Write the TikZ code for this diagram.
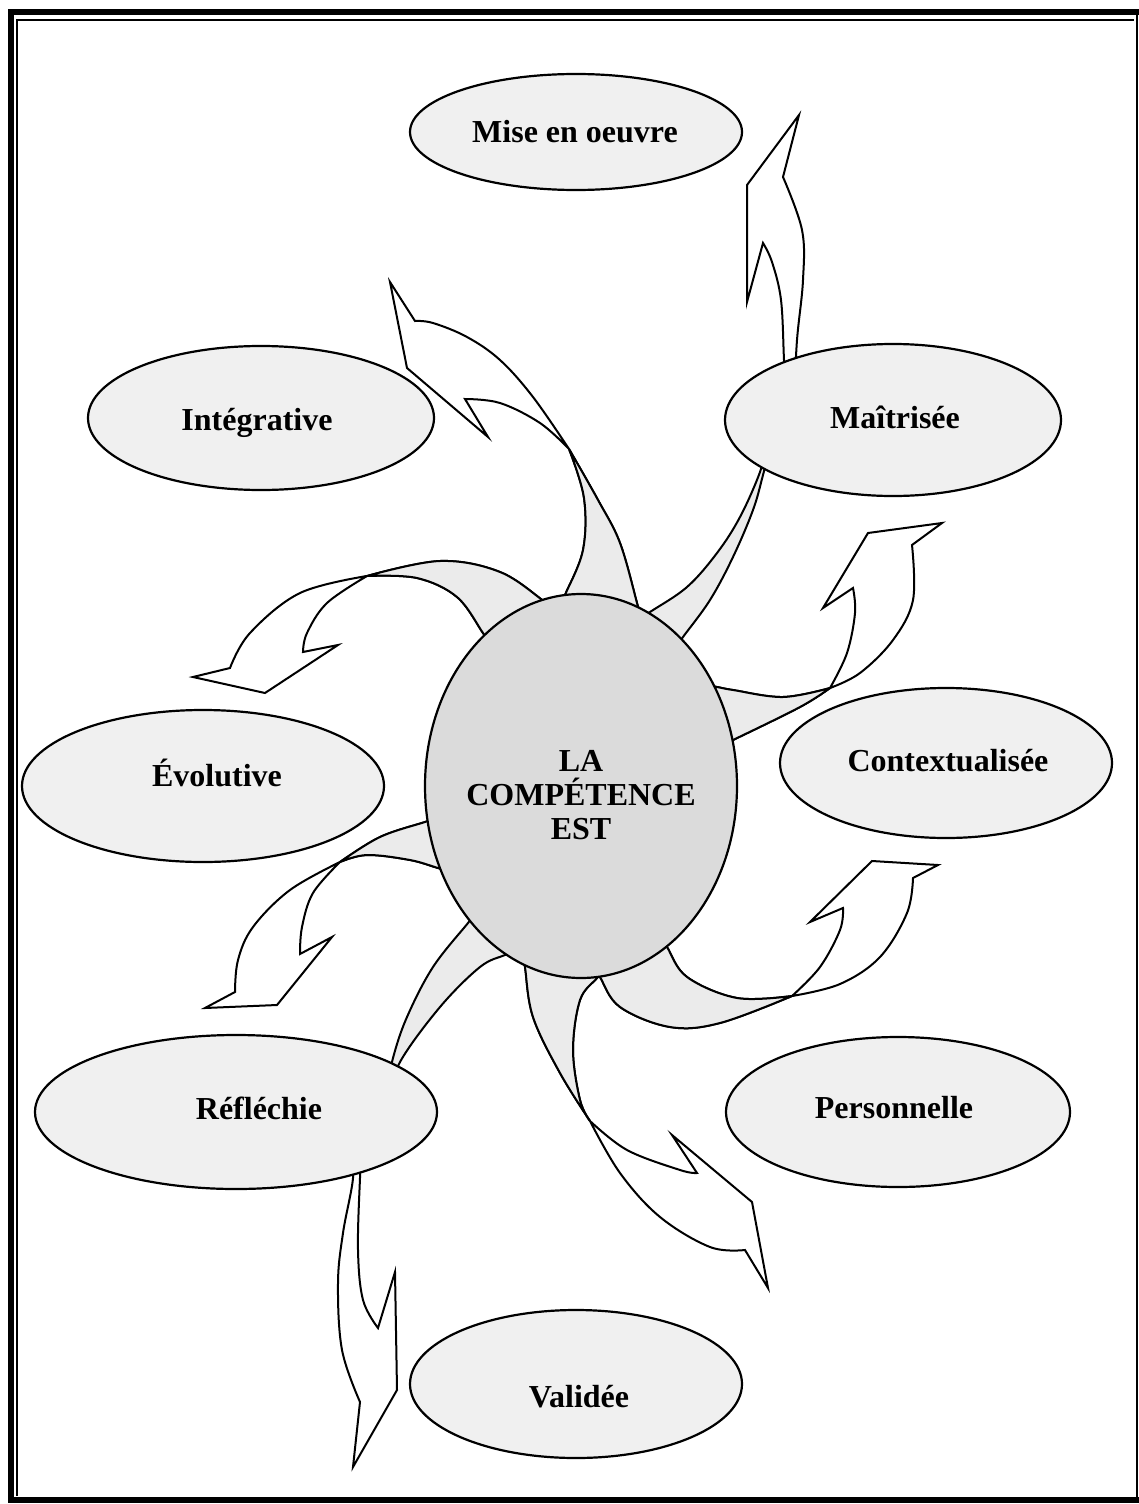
\documentclass[tikz,border=0pt]{standalone}
\usepackage{fontspec}
\setmainfont{Liberation Serif}
\usetikzlibrary{shapes.geometric}
\begin{document}
\begin{tikzpicture}[x=0.5pt,y=-0.5pt,
  bubble/.style={ellipse, draw=black, line width=1.1pt, fill=black!6, inner sep=0pt, outer sep=0pt},
  hub/.style={ellipse, draw=black, line width=1.1pt, fill=black!14, inner sep=0pt, outer sep=0pt},
  tag/.style={font=\bfseries\fontsize{16}{17}\selectfont, anchor=base, inner sep=0pt},
  ribbon/.style={draw=black, line width=1pt, fill=white},
  backface/.style={draw=black, line width=1pt, fill=black!8},
  every plot/.style={tension=0.6},
]
\useasboundingbox (0,0) rectangle (1139,1504);
\fill[white] (0,0) rectangle (1139,1504);

% double frame
\draw[line width=3pt] (1139,12) -- (11,12) -- (11,1500) -- (1139,1500);
\draw[line width=0.8pt] (17,1496) -- (17,20) -- (1134,20);
\draw[line width=1pt] (1137,12) -- (1137,1500);

% ---------- twisted ribbon arrows ----------
% A : towards upper left
\path[ribbon] plot[smooth] coordinates {(640,615) (637,603) (620,543) (598,500) (569,449)}
  -- plot[smooth] coordinates {(569,449) (533,397) (500,360) (467,337) (433,323) (415,321)}
  -- (390,282) -- (407,368) -- (488,437) -- (465,399)
  -- plot[smooth] coordinates {(465,399) (500,403) (540,423) (569,449)}
  -- plot[smooth] coordinates {(569,449) (584,498) (583,550) (565,595) (561,605)}
  -- cycle;
\path[backface] plot[smooth] coordinates {(640,615) (637,603) (620,543) (598,500) (569,449)}
  -- plot[smooth] coordinates {(569,449) (584,498) (583,550) (565,595) (561,605)} -- cycle;

% B : through the upper right bubble, then up
\path[backface] plot[smooth] coordinates {(640,619) (650,612) (687,587) (717,553) (740,517) (760,472) (768,440)}
  -- plot[smooth] coordinates {(772,440) (763,475) (753,510) (733,557) (710,600) (683,637) (677,646)} -- cycle;
\path[ribbon] plot[smooth] coordinates {(786,400) (784,360) (781,300) (772,262) (763,243)}
  -- (747,302) -- (747,185) -- (799,115) -- (783,177)
  -- plot[smooth] coordinates {(783,177) (802,230) (803,280) (797,340) (794,400)}
  -- cycle;

% C : towards the right, upper
\path[ribbon] plot[smooth] coordinates {(700,684) (717,687) (733,690) (783,697) (830,688)}
  -- plot[smooth] coordinates {(830,688) (847,653) (855,613) (853,588)}
  -- (823,608) -- (868,533) -- (942,523) -- (912,545)
  -- plot[smooth] coordinates {(912,545) (913,600) (893,640) (860,673) (830,688)}
  -- plot[smooth] coordinates {(830,688) (800,707) (733,740) (720,746)}
  -- cycle;
\path[backface] plot[smooth] coordinates {(700,684) (717,687) (733,690) (783,697) (830,688)}
  -- plot[smooth] coordinates {(830,688) (800,707) (733,740) (720,746)} -- cycle;

% D : towards the right, lower
\path[ribbon] plot[smooth] coordinates {(660,937) (667,947) (687,977) (737,998) (792,996)}
  -- plot[smooth] coordinates {(792,996) (820,967) (840,930) (843,908)}
  -- (810,922) -- (872,861) -- (938,865) -- (913,878)
  -- plot[smooth] coordinates {(913,878) (907,913) (880,957) (840,984) (792,996)}
  -- plot[smooth] coordinates {(792,996) (720,1023) (670,1027) (620,1007) (600,977) (594,966)}
  -- cycle;
\path[backface] plot[smooth] coordinates {(660,937) (667,947) (687,977) (737,998) (792,996)}
  -- plot[smooth] coordinates {(792,996) (720,1023) (670,1027) (620,1007) (600,977) (594,966)} -- cycle;

% E : towards lower right
\path[ribbon] plot[smooth] coordinates {(523,955) (525,967) (533,1017) (560,1073) (590,1121)}
  -- plot[smooth] coordinates {(590,1121) (620,1173) (660,1217) (710,1247) (745,1250)}
  -- (768,1288) -- (752,1202) -- (672,1135) -- (697,1173)
  -- plot[smooth] coordinates {(697,1173) (680,1170) (627,1150) (590,1121)}
  -- plot[smooth] coordinates {(590,1121) (580,1100) (573,1050) (580,1000) (597,978) (605,968)}
  -- cycle;
\path[backface] plot[smooth] coordinates {(523,955) (525,967) (533,1017) (560,1073) (590,1121)}
  -- plot[smooth] coordinates {(590,1121) (580,1100) (573,1050) (580,1000) (597,978) (605,968)} -- cycle;

% F : through the lower left bubble, then down
\path[backface] plot[smooth] coordinates {(476,913) (468,923) (433,967) (407,1017) (393,1058) (386,1095)}
  -- plot[smooth] coordinates {(392,1095) (400,1062) (440,1007) (480,967) (505,955) (516,950)} -- cycle;
\path[ribbon] plot[smooth] coordinates {(350,1150) (353,1178) (343,1233) (338,1283) (342,1350) (360,1402)}
  -- (353,1467) -- (397,1390) -- (395,1272) -- (378,1328)
  -- plot[smooth] coordinates {(378,1328) (363,1300) (358,1250) (360,1178) (362,1150)}
  -- cycle;

% G : towards the left, lower
\path[ribbon] plot[smooth] coordinates {(440,817) (425,822) (380,837) (340,862)}
  -- plot[smooth] coordinates {(340,862) (290,890) (253,927) (238,960) (235,992)}
  -- (205,1008) -- (277,1005) -- (332,937) -- (300,954)
  -- plot[smooth] coordinates {(300,954) (302,927) (313,893) (340,862)}
  -- plot[smooth] coordinates {(340,862) (367,855) (410,860) (438,868) (450,871)}
  -- cycle;
\path[backface] plot[smooth] coordinates {(440,817) (425,822) (380,837) (340,862)}
  -- plot[smooth] coordinates {(340,862) (367,855) (410,860) (438,868) (450,871)} -- cycle;

% H : towards the left, upper
\path[ribbon] plot[smooth] coordinates {(556,610) (545,602) (500,572) (440,561) (367,576)}
  -- plot[smooth] coordinates {(367,576) (300,593) (250,633) (230,668)}
  -- (193,677) -- (265,693) -- (338,645) -- (303,652)
  -- plot[smooth] coordinates {(303,652) (307,633) (327,603) (367,576)}
  -- plot[smooth] coordinates {(367,576) (417,578) (457,597) (483,633) (490,643)}
  -- cycle;
\path[backface] plot[smooth] coordinates {(556,610) (545,602) (500,572) (440,561) (367,576)}
  -- plot[smooth] coordinates {(367,576) (417,578) (457,597) (483,633) (490,643)} -- cycle;

% ---------- bubbles ----------
\node[bubble, minimum width=166pt, minimum height=58pt] (mise) at (576,132) {};
\node[bubble, minimum width=173pt, minimum height=72pt] (integ) at (261,418) {};
\node[bubble, minimum width=168pt, minimum height=76pt] (maitr) at (893,420) {};
\node[bubble, minimum width=166pt, minimum height=75pt] (context) at (946,763) {};
\node[bubble, minimum width=181pt, minimum height=76pt] (evol) at (203,786) {};
\node[bubble, minimum width=201pt, minimum height=77pt] (reflech) at (236,1112) {};
\node[bubble, minimum width=172pt, minimum height=75pt] (perso) at (898,1112) {};
\node[bubble, minimum width=166pt, minimum height=74pt] (valid) at (576,1384) {};
\node[hub, minimum width=156pt, minimum height=192pt] (hub) at (581,786) {};

% ---------- texts ----------
\node[tag] (tmise) at (575,142) {Mise en oeuvre};
\node[tag] (tinteg) at (257,430) {Intégrative};
\node[tag] (tmaitr) at (895,428) {Maîtrisée};
\node[tag] (tcontext) at (948,771) {Contextualisée};
\node[tag] (tevol) at (217,786) {Évolutive};
\node[tag] (treflech) at (259,1119) {Réfléchie};
\node[tag] (tperso) at (894,1118) {Personnelle};
\node[tag] (tvalid) at (579,1407) {Validée};
\node[font=\bfseries\fontsize{16}{17}\selectfont, align=center, inner sep=0pt] (thub) at (581,795) {LA\\COMPÉTENCE\\EST};
\end{tikzpicture}
\end{document}
